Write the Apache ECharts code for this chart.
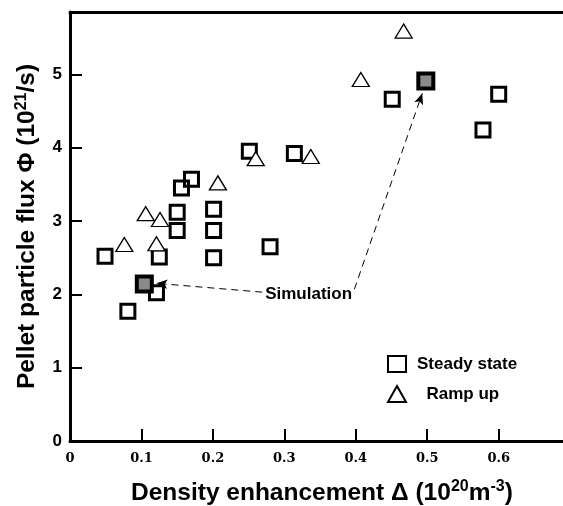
<!DOCTYPE html>
<html>
<head>
<meta charset="utf-8">
<script src="https://cdn.jsdelivr.net/npm/echarts@6/dist/echarts.min.js"></script>
<style>
  html, body { margin: 0; padding: 0; background: #fff; }
  #chart { width: 563px; height: 506px; }
</style>
</head>
<body>
<div id="chart"></div>
<script>
// data: [density enhancement, pellet flux]
var steadyState = [
    [0.049, 2.52], [0.081, 1.77], [0.121, 2.02], [0.125, 2.51],
    [0.150, 2.87], [0.150, 3.12], [0.156, 3.45], [0.170, 3.57],
    [0.201, 3.16], [0.201, 2.87], [0.201, 2.50], [0.251, 3.95],
    [0.280, 2.65], [0.314, 3.92], [0.451, 4.66], [0.578, 4.24],
    [0.600, 4.73]
];
var rampUp = [
    [0.076, 2.68], [0.106, 3.10], [0.121, 2.69], [0.126, 3.02],
    [0.207, 3.52], [0.260, 3.85], [0.337, 3.88], [0.407, 4.93],
    [0.467, 5.59]
];
var simulation = [[0.104, 2.14], [0.498, 4.91]];
var simLabelPos = [0.334, 2.00];
var simArrows = [
    [[0.269, 2.03], [0.121, 2.15]],
    [[0.398, 2.07], [0.493, 4.74]]
];
var xTicks = [0, 0.1, 0.2, 0.3, 0.4, 0.5, 0.6];
var yTicks = [0, 1, 2, 3, 4, 5];

var sans = 'Liberation Sans';

var chart = echarts.init(document.getElementById('chart'));

var titleStyle = {
    fontFamily: sans, fontWeight: 'bold', fontSize: 24.5, color: '#000',
    verticalAlign: 'bottom', lineHeight: 28,
    rich: {
        sup: { fontFamily: sans, fontWeight: 'bold', fontSize: 16, color: '#000', verticalAlign: 'top', lineHeight: 28 }
    }
};

var option = {
    animation: false,
    backgroundColor: '#fff',
    // x axis title drawn as a title block so it can sit low enough
    title: {
        text: 'Density enhancement Δ (10{sup|20}m{sup|-3})',
        left: 131,
        top: 479,
        padding: 0,
        textStyle: titleStyle
    },
    grid: { left: 70, right: 0, top: 12, bottom: 65 },
    legend: {
        orient: 'vertical',
        left: 382,
        top: 350,
        itemWidth: 18,
        itemHeight: 16,
        itemGap: 12,
        data: ['Steady state', 'Ramp up'],
        formatter: function (name) {
            return name === 'Ramp up' ? '  ' + name : name;
        },
        textStyle: {
            fontFamily: sans, fontWeight: 'bold', fontSize: 17, color: '#000',
            padding: [0, 0, 0, 6]
        }
    },
    xAxis: [
        {
            type: 'value',
            min: 0,
            max: 0.69,
            position: 'bottom',
            splitLine: { show: false },
            axisLine: { lineStyle: { color: '#000', width: 3 } },
            axisTick: {
                inside: true, length: 12, customValues: xTicks,
                lineStyle: { color: '#000', width: 2 }
            },
            axisLabel: {
                margin: 11,
                customValues: xTicks,
                fontFamily: 'DejaVu Serif',
                fontWeight: 'bold',
                fontSize: 13,
                color: '#000',
                formatter: function (v) { return String(v); }
            }
        },
        {
            type: 'value',
            min: 0,
            max: 0.69,
            position: 'top',
            splitLine: { show: false },
            axisLine: { lineStyle: { color: '#000', width: 3 } },
            axisTick: { show: false },
            axisLabel: { show: false }
        }
    ],
    yAxis: {
        type: 'value',
        min: 0,
        max: 5.85,
        splitLine: { show: false },
        axisLine: { lineStyle: { color: '#000', width: 3 } },
        axisTick: {
            inside: true, length: 12, customValues: yTicks,
            lineStyle: { color: '#000', width: 2 }
        },
        axisLabel: {
            margin: 8,
            customValues: yTicks,
            fontFamily: sans,
            fontWeight: 'bold',
            fontSize: 17,
            color: '#000'
        },
        name: 'Pellet particle flux Φ (10{sup|21}/s)',
        nameLocation: 'middle',
        nameRotate: 90,
        nameGap: 28,
        nameTextStyle: titleStyle
    },
    series: [
        {
            name: 'Steady state',
            type: 'scatter',
            symbol: 'rect',
            symbolSize: 14,
            itemStyle: { color: 'rgba(255,255,255,0)', borderColor: '#000', borderWidth: 3, opacity: 1 },
            data: steadyState,
            z: 2
        },
        {
            name: 'Ramp up',
            type: 'scatter',
            symbol: 'triangle',
            symbolSize: [17, 14],
            itemStyle: { color: '#fff', borderColor: '#000', borderWidth: 1.3, opacity: 1 },
            data: rampUp,
            z: 3
        },
        {
            name: 'Simulation',
            type: 'scatter',
            symbol: 'rect',
            symbolSize: 15,
            itemStyle: { color: '#8a8a8a', borderColor: '#000', borderWidth: 4, opacity: 1 },
            data: simulation,
            z: 4,
            markLine: {
                silent: true,
                symbol: ['none', 'arrow'],
                symbolSize: [7, 11],
                lineStyle: { color: '#000', width: 1, type: [7, 5] },
                label: { show: false },
                data: simArrows.map(function (a) {
                    return [{ coord: a[0] }, { coord: a[1] }];
                })
            }
        },
        {
            name: 'label',
            type: 'scatter',
            symbolSize: 0,
            data: [simLabelPos],
            itemStyle: { opacity: 1 },
            label: {
                show: true,
                position: 'inside',
                formatter: 'Simulation',
                fontFamily: sans,
                fontWeight: 'bold',
                fontSize: 17,
                color: '#000'
            },
            z: 5
        }
    ]
};

chart.setOption(option);
</script>
</body>
</html>
